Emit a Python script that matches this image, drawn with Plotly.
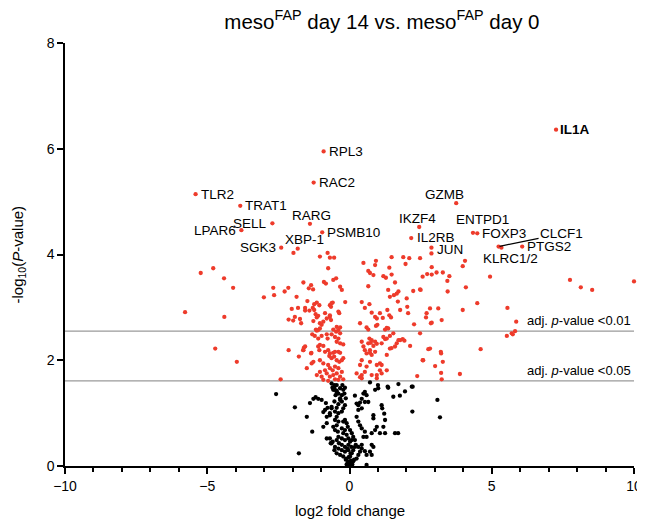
import plotly.graph_objects as go

# ---------------- data (log2 fold change, -log10 P) ----------------
label_genes = ["RPL3", "RAC2", "TLR2", "TRAT1", "SELL", "LPAR6", "RARG", "PSMB10", "SGK3", "XBP-1",
               "IL1A", "GZMB", "IKZF4", "ENTPD1", "FOXP3", "IL2RB", "JUN", "CLCF1", "KLRC1/2", "PTGS2"]
label_lfc = [-0.91, -1.26, -5.41, -3.84, -2.71, -3.80, -1.39, -0.96, -2.40, -1.82,
             7.26, 3.75, 2.45, 4.34, 4.49, 2.17, 2.88, 5.24, 5.34, 6.07]
label_nlogp = [5.95, 5.36, 5.14, 4.92, 4.59, 4.46, 4.58, 4.42, 4.13, 4.11,
               6.36, 4.97, 4.52, 4.41, 4.40, 4.31, 4.13, 4.15, 4.13, 4.15]

sig_left = [(-5.78, 2.91), (-5.23, 3.65), (-4.79, 3.74), (-4.41, 3.55), (-4.09, 3.37), (-4.40, 2.82),
            (-4.72, 2.22), (-3.96, 1.97), (-3.01, 3.19), (-2.68, 3.37), (-2.65, 3.23), (-2.28, 3.30),
            (-2.15, 3.37), (-1.86, 3.20), (-1.62, 3.47), (-1.43, 3.36), (-1.35, 3.42), (-1.28, 3.34),
            (-1.48, 3.12), (-1.24, 3.06), (-1.15, 3.09), (-2.03, 2.97), (-1.81, 2.99), (-1.56, 2.99),
            (-1.56, 2.94), (-1.41, 2.94), (-1.29, 2.99), (-1.24, 2.95), (-1.19, 2.87), (-1.92, 2.82),
            (-2.14, 2.77), (-1.98, 2.75), (-1.74, 2.78), (-1.70, 2.70), (-1.27, 2.74), (-1.15, 2.81),
            (-1.10, 2.84), (-1.18, 2.58), (-1.15, 2.56), (-1.31, 2.49), (-1.22, 2.46), (-1.10, 2.41),
            (-1.60, 2.24), (-1.63, 2.19), (-2.14, 2.19), (-1.78, 2.07), (-1.34, 2.14), (-1.10, 2.26),
            (-1.04, 3.96), (-1.97, 4.03), (-2.42, 1.64)]

sig_center_up = [(-0.77, 4.03), (-0.69, 3.94), (-0.54, 3.94), (-0.75, 3.74), (-0.47, 3.55), (-0.90, 3.48),
                 (-0.83, 3.45), (-0.57, 3.52), (-0.33, 3.39), (-0.27, 3.33), (-0.15, 3.10), (-0.63, 3.08),
                 (-0.65, 3.01), (-0.39, 2.92), (-0.36, 2.89), (-0.69, 2.82), (-0.65, 2.76), (-0.98, 2.67),
                 (-1.04, 2.70), (-0.92, 2.73), (-1.04, 2.60), (-1.10, 2.57), (-0.45, 2.63), (-0.39, 2.57),
                 (-0.33, 2.62), (-0.57, 2.58), (-1.06, 3.04), (-0.69, 3.04), (-0.59, 3.09), (-0.86, 2.89),
                 (-0.80, 2.79), (-0.69, 2.85)]

sig_center_low = [(-0.98, 2.46), (-0.80, 2.49), (-0.77, 2.41), (-0.63, 2.49), (-0.51, 2.44), (-0.47, 2.54),
                  (-0.33, 2.51), (-0.39, 2.41), (-0.45, 2.35), (-0.33, 2.32), (-0.22, 2.30), (-1.04, 2.29),
                  (-0.92, 2.27), (-1.06, 2.19), (-0.86, 2.16), (-0.75, 2.19), (-0.69, 2.13), (-0.57, 2.14),
                  (-0.51, 2.16), (-0.39, 2.16), (-0.33, 2.14), (-0.71, 2.08), (-0.63, 2.04), (-0.54, 2.07),
                  (-0.45, 2.00), (-0.36, 1.97), (-0.27, 2.00), (-0.22, 2.04), (-1.04, 2.00), (-0.92, 1.94),
                  (-1.27, 1.97), (-1.35, 2.13), (-1.62, 2.19), (-1.56, 2.26), (-0.75, 1.91), (-0.69, 1.85),
                  (-0.59, 1.81), (-0.51, 1.88), (-0.39, 1.85), (-0.27, 1.78), (-0.45, 1.75), (-0.57, 1.72),
                  (-0.69, 1.69), (-0.80, 1.75), (-0.86, 1.81), (-0.33, 1.69), (-0.22, 1.64), (-0.39, 1.63),
                  (-0.51, 1.64), (-0.75, 1.61), (-0.92, 1.63), (-1.33, 1.94), (-1.50, 1.85), (-1.04, 1.78),
                  (-1.15, 1.72), (-0.98, 1.69)]

sig_right_up = [(0.49, 3.84), (0.93, 3.88), (0.90, 3.80), (0.66, 3.69), (0.72, 3.65), (0.84, 3.61),
                (1.19, 3.59), (1.28, 3.56), (1.40, 3.75), (1.48, 3.95), (1.89, 3.95), (2.10, 3.93),
                (1.97, 3.82), (1.60, 3.47), (1.48, 3.62), (1.36, 3.33), (1.42, 3.20), (1.56, 3.23),
                (1.66, 3.26), (1.72, 3.30), (0.66, 3.40), (0.43, 3.10), (0.54, 2.99), (0.70, 3.06),
                (0.78, 2.90), (0.90, 2.82), (0.96, 2.79), (1.07, 2.89), (1.17, 2.80), (1.33, 2.95),
                (1.40, 2.85), (1.46, 2.81), (1.70, 3.11), (1.78, 2.95), (2.01, 3.17), (2.03, 3.01),
                (2.06, 2.89), (2.24, 3.31), (2.50, 3.33), (2.73, 3.63), (3.06, 3.66), (2.89, 3.76),
                (2.71, 2.89), (2.69, 2.81), (2.89, 2.71), (2.27, 2.68), (3.12, 2.98), (0.37, 2.70),
                (0.60, 2.62), (0.66, 2.58), (0.93, 2.65), (0.98, 2.67), (1.25, 2.58), (1.31, 2.61),
                (1.36, 2.60)]

sig_right_low = [(0.70, 2.41), (0.78, 2.38), (0.84, 2.27), (1.19, 2.44), (1.25, 2.40), (1.60, 2.26),
                 (1.66, 2.32), (1.78, 2.38), (1.87, 2.40), (1.93, 2.37), (2.13, 2.27), (1.42, 2.22),
                 (2.83, 2.22), (0.43, 2.35), (0.49, 2.26), (0.72, 2.19), (0.78, 2.10), (0.60, 2.13),
                 (0.90, 2.16), (0.54, 2.19), (0.66, 2.32), (0.72, 2.14), (0.75, 2.33), (0.90, 2.35),
                 (0.96, 2.31), (1.13, 2.32), (1.31, 2.41), (1.42, 2.46), (1.54, 2.51), (1.72, 2.38),
                 (1.48, 2.23), (1.31, 2.10), (1.07, 1.94), (0.43, 2.00), (0.37, 1.91), (0.60, 1.88),
                 (0.72, 1.97), (0.96, 1.91), (1.13, 1.91), (1.07, 1.81), (1.31, 1.81), (0.25, 1.75),
                 (0.43, 1.72), (0.54, 1.78), (0.78, 1.72), (0.96, 1.72), (1.13, 1.75), (0.96, 1.66),
                 (0.37, 1.68), (0.43, 1.66), (2.48, 2.51), (2.59, 2.00), (2.38, 1.70), (2.77, 2.21)]

sig_far_right = [(2.48, 3.93), (4.06, 3.88), (3.98, 3.78), (2.57, 3.58), (2.89, 3.62), (3.28, 3.66),
                 (3.51, 3.59), (3.44, 3.50), (2.48, 3.34), (3.45, 3.30), (4.09, 3.38), (4.94, 3.58),
                 (7.75, 3.52), (8.13, 3.38), (8.53, 3.33), (10.0, 3.49), (4.49, 3.08), (3.98, 2.95),
                 (5.55, 2.99), (2.83, 2.98), (2.86, 2.70), (3.24, 2.76), (5.86, 2.73), (5.82, 2.55),
                 (5.70, 2.51), (5.74, 2.49), (5.53, 2.46), (3.21, 2.16), (3.22, 2.13), (4.61, 2.21),
                 (2.57, 2.00), (3.01, 1.89), (3.28, 1.97), (3.22, 1.76), (3.88, 1.74), (3.24, 1.64),
                 (2.88, 4.02)]

ns_left = [(-1.92, 1.11), (-1.50, 0.93), (-1.31, 0.65), (-1.78, 0.24), (-2.58, 1.36), (-1.39, 1.19),
           (-1.27, 1.27), (-1.19, 1.30), (-1.10, 1.27), (-0.98, 1.25), (-0.83, 1.19), (-0.77, 1.10),
           (-0.86, 1.06), (-0.92, 1.02), (-0.80, 0.93), (-0.69, 1.00), (-0.63, 1.12), (-0.53, 1.22),
           (-0.45, 1.10), (-0.39, 1.17), (-0.33, 1.25), (-0.27, 1.34), (-0.18, 1.37), (-0.13, 1.28),
           (-0.22, 1.44), (-0.16, 1.48), (-0.25, 1.53), (-0.53, 1.53), (-0.60, 1.48), (-0.51, 1.44),
           (-0.45, 1.40), (-0.33, 1.47), (-0.92, 0.74), (-0.80, 0.81), (-0.66, 0.43), (-0.59, 0.46),
           (-0.80, 0.52)]

ns_stem = [(-0.51, 0.87), (-0.39, 0.84), (-0.45, 0.77), (-0.57, 0.74), (-0.51, 0.68), (-0.41, 0.65),
           (-0.27, 0.71), (-0.22, 0.84), (-0.16, 0.87), (-0.10, 0.81), (-0.06, 0.74), (-0.16, 0.68),
           (-0.22, 0.62), (-0.10, 0.59), (-0.04, 0.52), (-0.16, 0.49), (-0.27, 0.52), (-0.39, 0.55),
           (-0.45, 0.49), (-0.37, 0.43), (-0.27, 0.40), (-0.16, 0.36), (-0.04, 0.40), (0.02, 0.46),
           (0.08, 0.49), (0.13, 0.55), (0.08, 0.62), (0.02, 0.68), (-0.04, 0.30), (-0.16, 0.27),
           (-0.27, 0.30), (-0.39, 0.33), (-0.51, 0.36), (-0.69, 0.52), (-0.63, 0.43), (-0.53, 0.30),
           (-0.45, 0.24), (-0.33, 0.21), (-0.22, 0.18), (-0.10, 0.14), (0.02, 0.18), (0.08, 0.24),
           (0.13, 0.30), (0.19, 0.36), (-0.04, 0.08), (0.02, 0.05), (0.08, 0.02), (-0.10, 0.03),
           (0.13, 0.09), (0.25, 0.14), (0.31, 0.21), (0.37, 0.27), (0.43, 0.33), (0.54, 0.28),
           (0.60, 0.21), (0.02, 0.01), (0.10, 0.03), (-0.06, 0.06), (0.05, 0.10), (-0.13, 0.12),
           (0.16, 0.12), (-0.02, 0.17), (0.04, 0.24), (-0.08, 0.33), (0.06, 0.36)]

ns_stem_up = [(-0.63, 1.56), (-0.53, 1.50), (-0.45, 1.53), (-0.57, 1.44), (-0.45, 1.42), (-0.39, 1.37),
              (-0.49, 1.34), (-0.33, 1.28), (-0.27, 1.22), (-0.16, 1.15), (-0.22, 1.09), (-0.27, 1.03),
              (-0.39, 1.00), (-0.45, 0.93), (-0.51, 1.03), (-0.63, 1.09), (-0.69, 0.96)]

ns_right = [(0.19, 1.33), (0.25, 1.18), (0.31, 1.15), (0.37, 1.20), (0.43, 1.27), (0.49, 1.37),
            (0.54, 1.40), (0.60, 1.34), (0.54, 1.21), (0.66, 1.21), (0.43, 1.09), (0.31, 1.06),
            (0.25, 0.93), (0.31, 0.84), (0.37, 0.77), (0.43, 0.71), (0.54, 0.65), (0.60, 0.55),
            (0.49, 0.55), (0.19, 0.49), (0.22, 0.40), (0.31, 0.36), (0.43, 0.40), (0.78, 0.62),
            (0.90, 0.68), (0.96, 0.74), (0.84, 0.90), (0.84, 0.96), (1.13, 1.15), (1.15, 1.09),
            (1.22, 0.99), (1.25, 0.87), (1.19, 0.74), (1.25, 0.62), (1.07, 0.62), (0.90, 1.44),
            (1.01, 1.47), (0.72, 1.58), (1.00, 1.53), (1.36, 1.48), (1.54, 1.31), (1.77, 1.33),
            (1.95, 1.41), (2.19, 1.50), (2.21, 1.03), (1.60, 0.62), (1.71, 0.62), (0.72, 0.27),
            (0.78, 0.21), (0.60, 0.02), (2.22, 1.50), (3.09, 1.25), (3.18, 0.92), (1.34, 1.50),
            (1.72, 1.55), (0.78, 0.40), (0.84, 0.36)]

adj_p_001 = 2.55
adj_p_005 = 1.61

# ---------------- assemble ----------------
sig_all = sig_left + sig_center_up + sig_center_low + sig_right_up + sig_right_low + sig_far_right
ns_all = ns_left + ns_stem + ns_stem_up + ns_right

RED = "#EE3B2B"
FONT = "Liberation Sans, Arial, Helvetica, sans-serif"

fig = go.Figure()
fig.add_trace(go.Scatter(x=[p[0] for p in ns_all], y=[p[1] for p in ns_all], mode="markers",
                         marker=dict(color="black", size=4.3), cliponaxis=False, showlegend=False))
fig.add_trace(go.Scatter(x=[p[0] for p in sig_all] + label_lfc, y=[p[1] for p in sig_all] + label_nlogp,
                         mode="markers", marker=dict(color=RED, size=4.3), cliponaxis=False, showlegend=False))

# threshold lines
for yv in (adj_p_001, adj_p_005):
    fig.add_shape(type="line", xref="paper", x0=0, x1=1, yref="y", y0=yv, y1=yv,
                  line=dict(color="#9a9a9a", width=1.2), layer="below")

fig.add_annotation(x=1, xref="paper", y=adj_p_001, yref="y", text="adj. <i>p</i>-value <0.01",
                   showarrow=False, xanchor="right", yanchor="bottom", yshift=1, xshift=-1,
                   font=dict(size=13, color="black"))
fig.add_annotation(x=1, xref="paper", y=adj_p_005, yref="y", text="adj. <i>p</i>-value <0.05",
                   showarrow=False, xanchor="right", yanchor="bottom", yshift=1, xshift=-1,
                   font=dict(size=13, color="black"))

# axis titles
fig.add_annotation(x=0.5, xref="paper", y=0, yref="paper", text="log2 fold change", showarrow=False,
                   xanchor="center", yanchor="middle", yshift=-44, font=dict(size=15, color="black"))
fig.add_annotation(x=0, xref="paper", y=0.5, yref="paper", text="-log<sub>10</sub>(<i>P</i>-value)",
                   showarrow=False, textangle=-90, xanchor="center", yanchor="middle", xshift=-47,
                   font=dict(size=15, color="black"))

# gene labels: (xanchor, xshift, yshift)
placement = {
    "RPL3": ("left", 3, 0), "RAC2": ("left", 3, 0), "TLR2": ("left", 3, 0), "TRAT1": ("left", 3, 0),
    "SELL": ("right", -3, 0), "LPAR6": ("right", -3, 0), "RARG": ("center", 2, 8),
    "PSMB10": ("left", 3, 0), "SGK3": ("right", -3, 0), "XBP-1": ("center", 7, 9),
    "IL1A": ("left", 2, 0), "GZMB": ("center", -12, 9), "IKZF4": ("center", -2, 9),
    "ENTPD1": ("center", 10, 13), "FOXP3": ("left", 3, 0), "IL2RB": ("left", 4, 1),
    "JUN": ("left", 4, -2), "PTGS2": ("left", 3, 0), "KLRC1/2": ("center", 9, -11),
}
for g, xv, yv in zip(label_genes, label_lfc, label_nlogp):
    txt = "<b>%s</b>" % g if g == "IL1A" else g
    if g == "CLCF1":
        fig.add_annotation(x=xv, y=yv, text=txt, showarrow=True, ax=63, ay=-13, arrowhead=0,
                           arrowwidth=1.2, arrowcolor="black", standoff=1,
                           font=dict(size=13.5, color="black"))
        continue
    xa, xs, ys = placement[g]
    fig.add_annotation(x=xv, y=yv, text=txt, showarrow=False, xanchor=xa, yanchor="middle",
                       xshift=xs, yshift=ys, font=dict(size=13.5, color="black"))

fig.update_layout(
    width=637, height=517,
    margin=dict(l=57, r=11, t=35, b=59, autoexpand=False),
    paper_bgcolor="white", plot_bgcolor="white",
    font=dict(family=FONT, size=14, color="black"),
    title=dict(text="meso<sup>FAP</sup> day 14 vs. meso<sup>FAP</sup> day 0", xref="container",
               x=0.587, xanchor="center", y=0.974, yanchor="middle",
               font=dict(size=20.5, color="black")),
    xaxis=dict(range=[-10, 10], tickvals=[-10, -5, 0, 5, 10], ticks="outside", ticklen=6, tickwidth=1.5,
               tickcolor="black", showline=True, linecolor="black", linewidth=1.5, showgrid=False,
               zeroline=False, automargin=False,
               minor=dict(dtick=1, tick0=0, ticks="outside", ticklen=4, tickwidth=1.5,
                          tickcolor="black", showgrid=False),
               tickfont=dict(size=14)),
    yaxis=dict(range=[0, 8], tickvals=[0, 2, 4, 6, 8], ticks="outside", ticklen=6, tickwidth=1.5,
               tickcolor="black", showline=True, linecolor="black", linewidth=1.5, showgrid=False,
               zeroline=False, automargin=False, tickfont=dict(size=14)),
)

fig.write_html("out.html")
